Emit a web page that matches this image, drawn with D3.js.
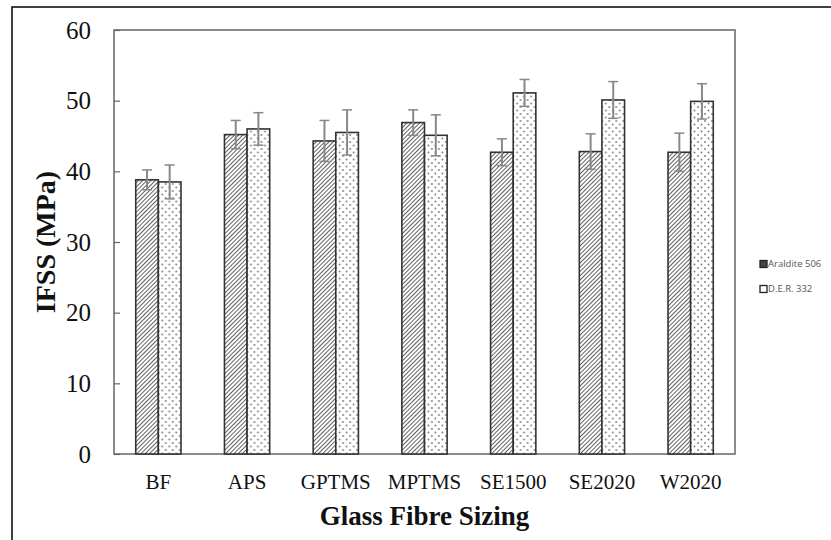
<!DOCTYPE html>
<html>
<head>
<meta charset="utf-8">
<script src="https://cdn.jsdelivr.net/npm/d3@7"></script>
<style>
    body { margin: 0; background: #fff; }
    svg { display: block; }
</style>
</head>
<body>
<svg id="chart"></svg>
<script>
const categories = ['BF', 'APS', 'GPTMS', 'MPTMS', 'SE1500', 'SE2020', 'W2020']
const seriesNames = ['Araldite 506', 'D.E.R. 332']
const araldite = [38.8, 45.2, 44.3, 46.9, 42.7, 42.8, 42.7]
const araldite_err = [1.4, 2.0, 2.9, 1.8, 1.9, 2.5, 2.7]
const der = [38.5, 46.0, 45.5, 45.1, 51.1, 50.1, 49.9]
const der_err = [2.4, 2.3, 3.2, 2.9, 1.9, 2.6, 2.5]
const yTicks = [0, 10, 20, 30, 40, 50, 60]

const WIDTH = 831
const HEIGHT = 540
const plot = { left: 114, right: 735, top: 30, bottom: 454 }
const SERIF = 'Liberation Serif, Times New Roman, serif'

const svg = d3.select('#chart')
    .attr('width', WIDTH)
    .attr('height', HEIGHT)
    .attr('viewBox', [0, 0, WIDTH, HEIGHT].join(' '))

// Patterns for the two series
const defs = svg.append('defs')

const hatch = defs.append('pattern')
    .attr('id', 'hatch')
    .attr('patternUnits', 'userSpaceOnUse')
    .attr('width', 3)
    .attr('height', 3)
    .attr('patternTransform', 'rotate(45)')
hatch.append('rect').attr('width', 3).attr('height', 3).attr('fill', '#fff')
hatch.append('line')
    .attr('x1', 0).attr('y1', 0).attr('x2', 0).attr('y2', 3)
    .attr('stroke', '#444').attr('stroke-width', 1.7)

const dots = defs.append('pattern')
    .attr('id', 'dots')
    .attr('patternUnits', 'userSpaceOnUse')
    .attr('width', 7)
    .attr('height', 7)
dots.append('rect').attr('width', 7).attr('height', 7).attr('fill', '#fff')
dots.append('circle').attr('cx', 2).attr('cy', 2).attr('r', 0.9).attr('fill', '#777')
dots.append('circle').attr('cx', 5.5).attr('cy', 5.5).attr('r', 0.9).attr('fill', '#777')

// Outer frame
svg.append('path')
    .attr('d', `M12,${HEIGHT} L12,7 L${WIDTH},7`)
    .attr('fill', 'none')
    .attr('stroke', '#000')
    .attr('stroke-width', 1.5)

const x0 = d3.scaleBand()
    .domain(categories)
    .range([plot.left, plot.right])
    .paddingInner(0.49)
    .paddingOuter(0.245)

const x1 = d3.scaleBand()
    .domain(seriesNames)
    .range([0, x0.bandwidth()])

const y = d3.scaleLinear()
    .domain([0, 60])
    .range([plot.bottom, plot.top])

// Plot area box
svg.append('rect')
    .attr('x', plot.left)
    .attr('y', plot.top)
    .attr('width', plot.right - plot.left)
    .attr('height', plot.bottom - plot.top)
    .attr('fill', 'none')
    .attr('stroke', '#666')
    .attr('stroke-width', 1.5)

// Y axis ticks (inside) and labels
const yAxis = d3.axisRight(y)
    .tickValues(yTicks)
    .tickSize(6)
    .tickFormat('')
svg.append('g')
    .attr('transform', `translate(${plot.left},0)`)
    .call(yAxis)
    .call(g => g.select('.domain').remove())
    .call(g => g.selectAll('line').attr('stroke', '#666').attr('stroke-width', 1.2))

svg.append('g')
    .selectAll('text')
    .data(yTicks)
    .join('text')
    .attr('x', 91)
    .attr('y', d => y(d))
    .attr('dy', '0.35em')
    .attr('text-anchor', 'end')
    .attr('font-family', SERIF)
    .attr('font-size', 25)
    .attr('fill', '#111')
    .text(d => d)

// Bars
const series = [
    { name: seriesNames[0], values: araldite, errs: araldite_err, fill: 'url(#hatch)' },
    { name: seriesNames[1], values: der, errs: der_err, fill: 'url(#dots)' },
]

const groups = svg.append('g')
    .selectAll('g')
    .data(categories)
    .join('g')
    .attr('transform', d => `translate(${x0(d)},0)`)

groups.selectAll('rect')
    .data((d, i) => series.map(s => ({ name: s.name, value: s.values[i], fill: s.fill })))
    .join('rect')
    .attr('x', d => x1(d.name))
    .attr('y', d => y(d.value))
    .attr('width', x1.bandwidth())
    .attr('height', d => y(0) - y(d.value))
    .attr('fill', d => d.fill)
    .attr('stroke', '#333')
    .attr('stroke-width', 1.6)

// Error bars
const errs = groups.selectAll('g.err')
    .data((d, i) => series.map(s => ({ name: s.name, value: s.values[i], err: s.errs[i] })))
    .join('g')
    .attr('class', 'err')
    .attr('stroke', '#888')
    .attr('stroke-width', 2)

errs.append('line')
    .attr('x1', d => x1(d.name) + x1.bandwidth() / 2)
    .attr('x2', d => x1(d.name) + x1.bandwidth() / 2)
    .attr('y1', d => y(d.value - d.err))
    .attr('y2', d => y(d.value + d.err))

errs.selectAll('line.cap')
    .data(d => [d.value - d.err, d.value + d.err].map(v => ({ name: d.name, v })))
    .join('line')
    .attr('class', 'cap')
    .attr('x1', d => x1(d.name) + x1.bandwidth() / 2 - 5)
    .attr('x2', d => x1(d.name) + x1.bandwidth() / 2 + 5)
    .attr('y1', d => y(d.v))
    .attr('y2', d => y(d.v))
    .attr('stroke-width', 1.5)

// X labels
svg.append('g')
    .selectAll('text')
    .data(categories)
    .join('text')
    .attr('x', d => x0(d) + x0.bandwidth() / 2)
    .attr('y', 489)
    .attr('text-anchor', 'middle')
    .attr('font-family', SERIF)
    .attr('font-size', 21)
    .attr('fill', '#111')
    .text(d => d)

// Axis titles
svg.append('text')
    .attr('x', (plot.left + plot.right) / 2)
    .attr('y', 525)
    .attr('text-anchor', 'middle')
    .attr('font-family', SERIF)
    .attr('font-weight', 'bold')
    .attr('font-size', 27)
    .attr('fill', '#111')
    .text('Glass Fibre Sizing')

svg.append('text')
    .attr('transform', `translate(55,242) rotate(-90)`)
    .attr('text-anchor', 'middle')
    .attr('font-family', SERIF)
    .attr('font-weight', 'bold')
    .attr('font-size', 28)
    .attr('fill', '#111')
    .text('IFSS (MPa)')

// Legend
const legend = svg.append('g')
    .attr('transform', 'translate(768,264)')
    .selectAll('g')
    .data(series)
    .join('g')
    .attr('transform', (d, i) => `translate(0,${i * 25})`)

legend.append('rect')
    .attr('x', -8)
    .attr('y', -3.5)
    .attr('width', 7)
    .attr('height', 7)
    .attr('fill', d => d.name === seriesNames[0] ? '#444' : '#fff')
    .attr('stroke', '#222')
    .attr('stroke-width', 1.3)

legend.append('text')
    .attr('x', 0)
    .attr('y', 0)
    .attr('dy', '0.35em')
    .attr('font-family', 'Open Sans, Noto Sans, sans-serif')
    .attr('font-size', 9.5)
    .attr('fill', '#555')
    .text(d => d.name)
</script>
</body>
</html>
